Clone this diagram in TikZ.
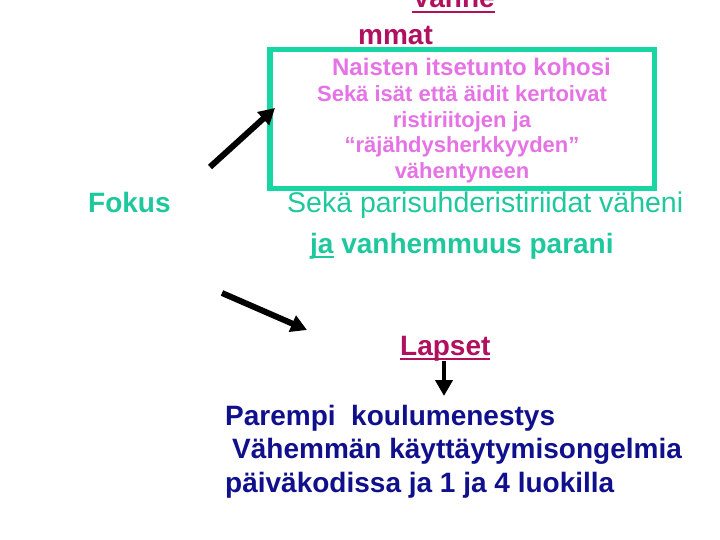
\documentclass[tikz,border=0pt]{standalone}
\usepackage{fontspec}
\setmainfont{Liberation Sans}
\usetikzlibrary{arrows.meta}
\newcommand\ulbar[1]{\setbox0\hbox{#1}\rlap{\rule[-5pt]{\wd0}{1.8pt}}\box0\relax}
\begin{document}
\begin{tikzpicture}[x=1pt,y=-1pt,
  txt/.style={inner sep=0pt,anchor=base west,font=\bfseries\fontsize{28}{30}\selectfont},
  pinktxt/.style={inner sep=0pt,anchor=base,text=pinkc,font=\bfseries\fontsize{22}{24}\selectfont},
  arr/.style={line width=6pt,-{Triangle[length=16pt,width=17pt]}}]
\definecolor{tealc}{HTML}{1FC89C}
\definecolor{boxc}{HTML}{17D6A3}
\definecolor{magc}{HTML}{B0105E}
\definecolor{pinkc}{HTML}{E673E6}
\definecolor{bluec}{HTML}{10108C}
\useasboundingbox (0,0) rectangle (720,540);
% heading, cut at the top
\node[txt,text=magc] (vanhe) at (412,8) {\ulbar{Vanhe}};
\node[txt,text=magc] (mmat) at (358,45) {mmat};
\node[txt,text=tealc] (fokus) at (88,212) {Fokus};
% couple
\node[txt,text=tealc,font=\fontsize{28.5}{30}\selectfont] (pari) at (287,213) {Sekä parisuhderistiriidat väheni};
\node[txt,text=tealc] (vanh) at (310,253) {\ulbar{ja} vanhemmuus parani};
\node[draw=boxc,line width=5.5pt,fill=white,minimum width=384.5pt,minimum height=139pt,inner sep=0pt] (box) at (462.25,119) {};
\node[pinktxt,font=\bfseries\fontsize{24}{26}\selectfont] (nais) at (471.5,76) {Naisten itsetunto kohosi};
\node[pinktxt] (seka) at (462,102) {Sekä isät että äidit kertoivat};
\node[pinktxt] (rist) at (462,127.5) {ristiriitojen ja};
\node[pinktxt] (raja) at (462,153) {“räjähdysherkkyyden”};
\node[pinktxt] (vahe) at (462,178.5) {vähentyneen};
% children
\node[txt,text=magc] (lapset) at (400,355) {\ulbar{Lapset}};
\node[txt,text=bluec] (koulu) at (225,425) {Parempi\ \ koulumenestys};
\node[txt,text=bluec] (kayt) at (232,458) {Vähemmän käyttäytymisongelmia};
\node[txt,text=bluec] (paiva) at (225,492) {päiväkodissa ja 1 ja 4 luokilla};
% arrows
\coordinate (a1) at (210,167);
\coordinate (b1) at (275,108);
\coordinate (a2) at (222,293);
\coordinate (b2) at (307,330);
\coordinate (a3) at (444,361);
\coordinate (b3) at (444,396);
\draw[arr] (a1) -- (b1);
\draw[arr] (a2) -- (b2);
\draw[arr,line width=4.5pt] (a3) -- (b3);
\end{tikzpicture}
\end{document}
